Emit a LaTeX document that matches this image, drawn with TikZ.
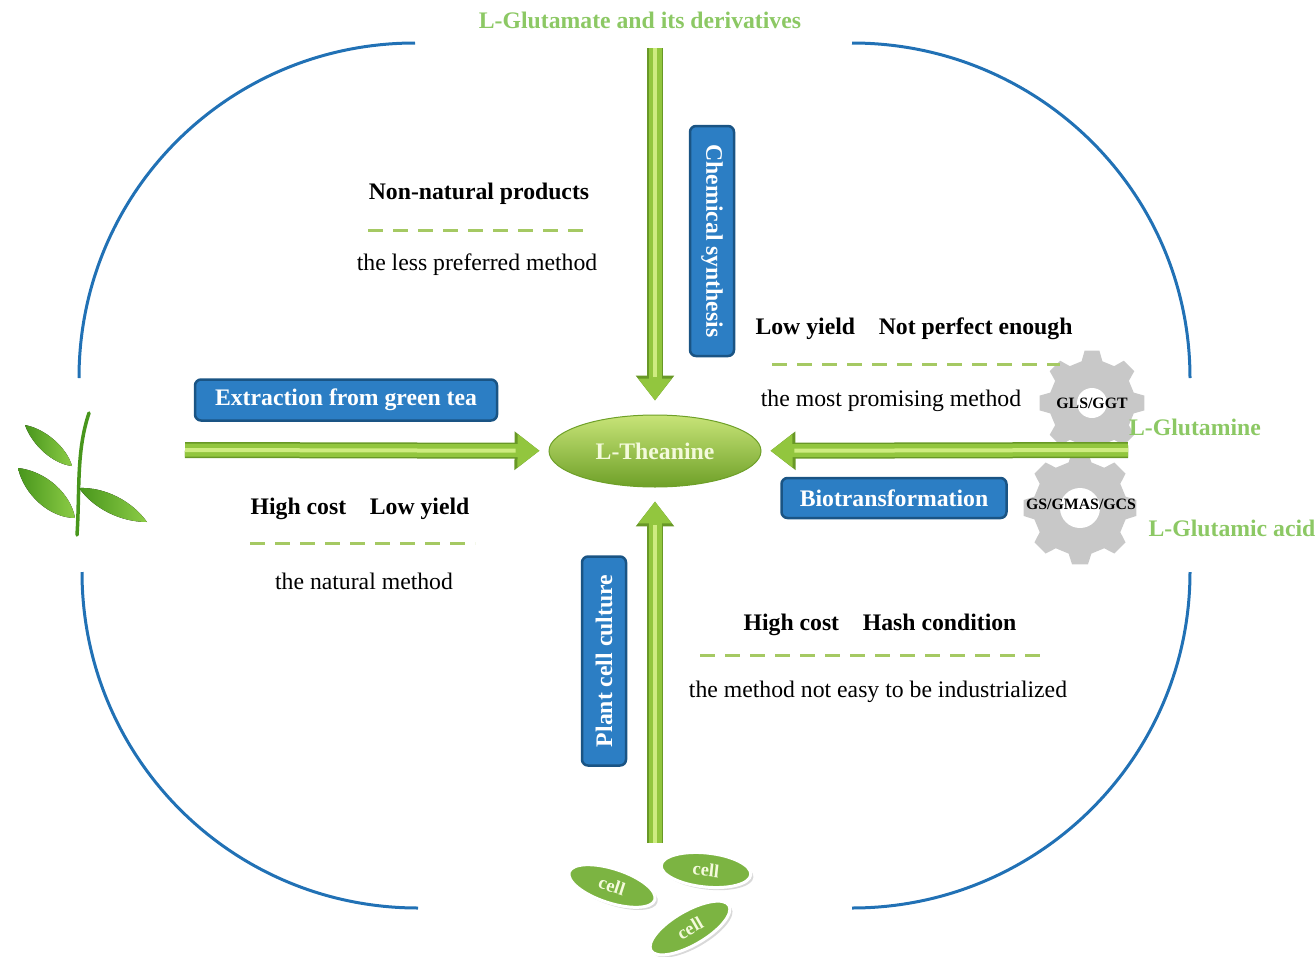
\documentclass[tikz,border=0pt]{standalone}
\usepackage{fontspec}
\setmainfont{Liberation Serif}
\usetikzlibrary{arrows.meta,shapes.geometric,shadows}

% one unit of the drawing grid
\newlength{\pxu}
\setlength{\pxu}{0.02cm}
\newcommand{\figfont}{\fontsize{13.5}{16}\selectfont}

\definecolor{ringblue}{RGB}{33,113,181}
\definecolor{boxblue}{RGB}{44,126,196}
\definecolor{boxedge}{RGB}{26,84,132}
\definecolor{arrowgreen}{RGB}{146,198,62}
\definecolor{arrowdark}{RGB}{104,152,38}
\definecolor{arrowlight}{RGB}{206,236,128}
\definecolor{labelgreen}{RGB}{140,200,100}
\definecolor{sepgreen}{RGB}{165,201,99}
\definecolor{thealight}{RGB}{200,228,120}
\definecolor{theamid}{RGB}{141,196,58}
\definecolor{theadark}{RGB}{110,160,40}
\definecolor{theatext}{RGB}{244,250,220}
\definecolor{coggray}{RGB}{200,200,200}
\definecolor{cellgreen}{RGB}{124,180,66}
\definecolor{leafdark}{RGB}{72,150,28}
\definecolor{leaflight}{RGB}{140,204,70}

\tikzset{
  ring/.style={draw=ringblue, line width=3\pxu},
  sep/.style={draw=sepgreen, line width=3\pxu, dash pattern=on 15\pxu off 10\pxu},
  note/.style={font=\bfseries\figfont},
  plain/.style={font=\figfont},
  source/.style={text=labelgreen, font=\bfseries\figfont},
  method/.style={draw=boxedge, fill=boxblue, rounded corners=6\pxu, line width=2.5\pxu,
    text=white, font=\bfseries\figfont, inner sep=0pt},
  % #1 = gap left before the target, in cm
  fatarrow/.style={draw=arrowgreen, line width=13\pxu, shorten >=#1cm,
    -{Triangle[width=0.64cm,length=0.44cm]},
    preaction={draw=arrowdark, line width=16\pxu, -{Triangle[width=0.74cm,length=0.5cm]}},
    postaction={draw=arrowlight, line width=4\pxu, arrows=-, shorten >={#1cm+0.48cm}}},
  cellnode/.style={ellipse, minimum width=90\pxu, minimum height=34\pxu, inner sep=0pt,
    fill=cellgreen, draw=white, line width=3\pxu, text=theatext,
    drop shadow={opacity=.3, shadow xshift=1.5pt, shadow yshift=-1.5pt},
    font=\bfseries\fontsize{10.5}{12}\selectfont},
  enzyme/.style={font=\bfseries\fontsize{9}{10}\selectfont},
  leaf/.style={left color=leafdark, right color=leaflight, draw=none},
}

% gear: centre, outer radius, inner radius, hole radius
\newcommand{\cog}[4]{%
  \begin{scope}[shift={#1}]
    \fill[coggray] (-14:#3) \foreach \a in {0,45,...,315} {
      -- (\a-14:#3) -- (\a-8:#2) -- (\a+8:#2) -- (\a+14:#3)} -- cycle;
    \fill[white] (0,0) circle[radius=#4];
  \end{scope}}

\begin{document}
\begin{tikzpicture}[x=0.02cm, y=-0.02cm]
  \useasboundingbox (0,0) rectangle (1316,957);

  % the four quarter rings
  \draw[ring] (415,43) .. controls (229,43) and (79,192) .. (79,378);
  \draw[ring] (82,572) .. controls (82,758) and (232,908) .. (418,908);
  \draw[ring] (852,43) .. controls (1038,43) and (1190,192) .. (1190,378);
  \draw[ring] (1190,572) .. controls (1190,758) and (1038,908) .. (852,908);

  % enzymes
  \cog{(1092,403)}{53}{43}{15}
  \cog{(1080,508)}{57}{47}{20}
  \node[enzyme] (gls) at (1092,403) {GLS/GGT};
  \node[enzyme] (gs) at (1081,504) {GS/GMAS/GCS};

  % tea leaf
  \draw[draw=leafdark, line width=3.5\pxu, line cap=round]
    (77,535) .. controls (80,490) and (76,452) .. (89,413);
  \fill[leaf] (25,425) .. controls (46,429) and (67,448) .. (72,466)
    .. controls (53,464) and (32,445) .. (25,425);
  \fill[leaf] (18,468) .. controls (46,471) and (71,494) .. (75,518)
    .. controls (50,518) and (24,495) .. (18,468);
  \fill[leaf] (79,488) .. controls (105,487) and (132,501) .. (147,522)
    .. controls (121,522) and (94,509) .. (79,488);

  % product in the middle
  \node[ellipse, minimum width=212\pxu, minimum height=72\pxu, inner sep=0pt,
    top color=thealight, middle color=theamid, bottom color=theadark,
    draw=theadark, line width=1\pxu, text=theatext, font=\bfseries\figfont]
    (theanine) at (655,451) {L-Theanine};

  % where the arrows start
  \coordinate (glutail) at (655,48);
  \coordinate (leaftail) at (185,450);
  \coordinate (enztail) at (1128,450);
  \coordinate (celltail) at (655,843);

  \draw[fatarrow=0.28] (glutail) -- (theanine);
  \draw[fatarrow=0.18] (leaftail) -- (theanine);
  \draw[fatarrow=0.18] (enztail) -- (theanine);
  \draw[fatarrow=0.28] (celltail) -- (theanine);

  % routes
  \node[method, minimum width=302\pxu, minimum height=41\pxu] (extract) at (346,400) {Extraction from green tea};
  \node[method, minimum width=230\pxu, minimum height=44\pxu, rotate=-90] (chem) at (712,241) {Chemical synthesis};
  \node[method, minimum width=225\pxu, minimum height=40\pxu] (bio) at (894,498) {Biotransformation};
  \node[method, minimum width=209\pxu, minimum height=44\pxu, rotate=90] (plant) at (604,661) {Plant cell culture};

  % starting materials
  \node[source] (glutamate) at (640,20) {L-Glutamate and its derivatives};
  \node[source] (glutamine) at (1195,427) {L-Glutamine};
  \node[source] (glutamic) at (1232,528) {L-Glutamic acid};

  % remarks on each route
  \node[note] (nonnat) at (479,194) {Non-natural products};
  \draw[sep] (368,230) -- (592,230);
  \node[plain] (lesspref) at (477,265) {the less preferred method};

  \node[note] (bioflaw) at (914,329) {Low yield\hspace{1em}Not perfect enough};
  \draw[sep] (772,364) -- (1060,364);
  \node[plain] (promising) at (891,401) {the most promising method};

  \node[note] (teaflaw) at (360,509) {High cost\hspace{1em}Low yield};
  \draw[sep] (250,543) -- (475,543);
  \node[plain] (natural) at (364,581) {the natural method};

  \node[note] (cellflaw) at (880,625) {High cost\hspace{1em}Hash condition};
  \draw[sep] (700,655) -- (1040,655);
  \node[plain] (industry) at (878,692) {the method not easy to be industrialized};

  % cells
  \node[cellnode, rotate=-18] (cella) at (612,886) {cell};
  \node[cellnode, rotate=-6] (cellb) at (706,870) {cell};
  \node[cellnode, rotate=30] (cellc) at (690,928) {cell};
\end{tikzpicture}
\end{document}
